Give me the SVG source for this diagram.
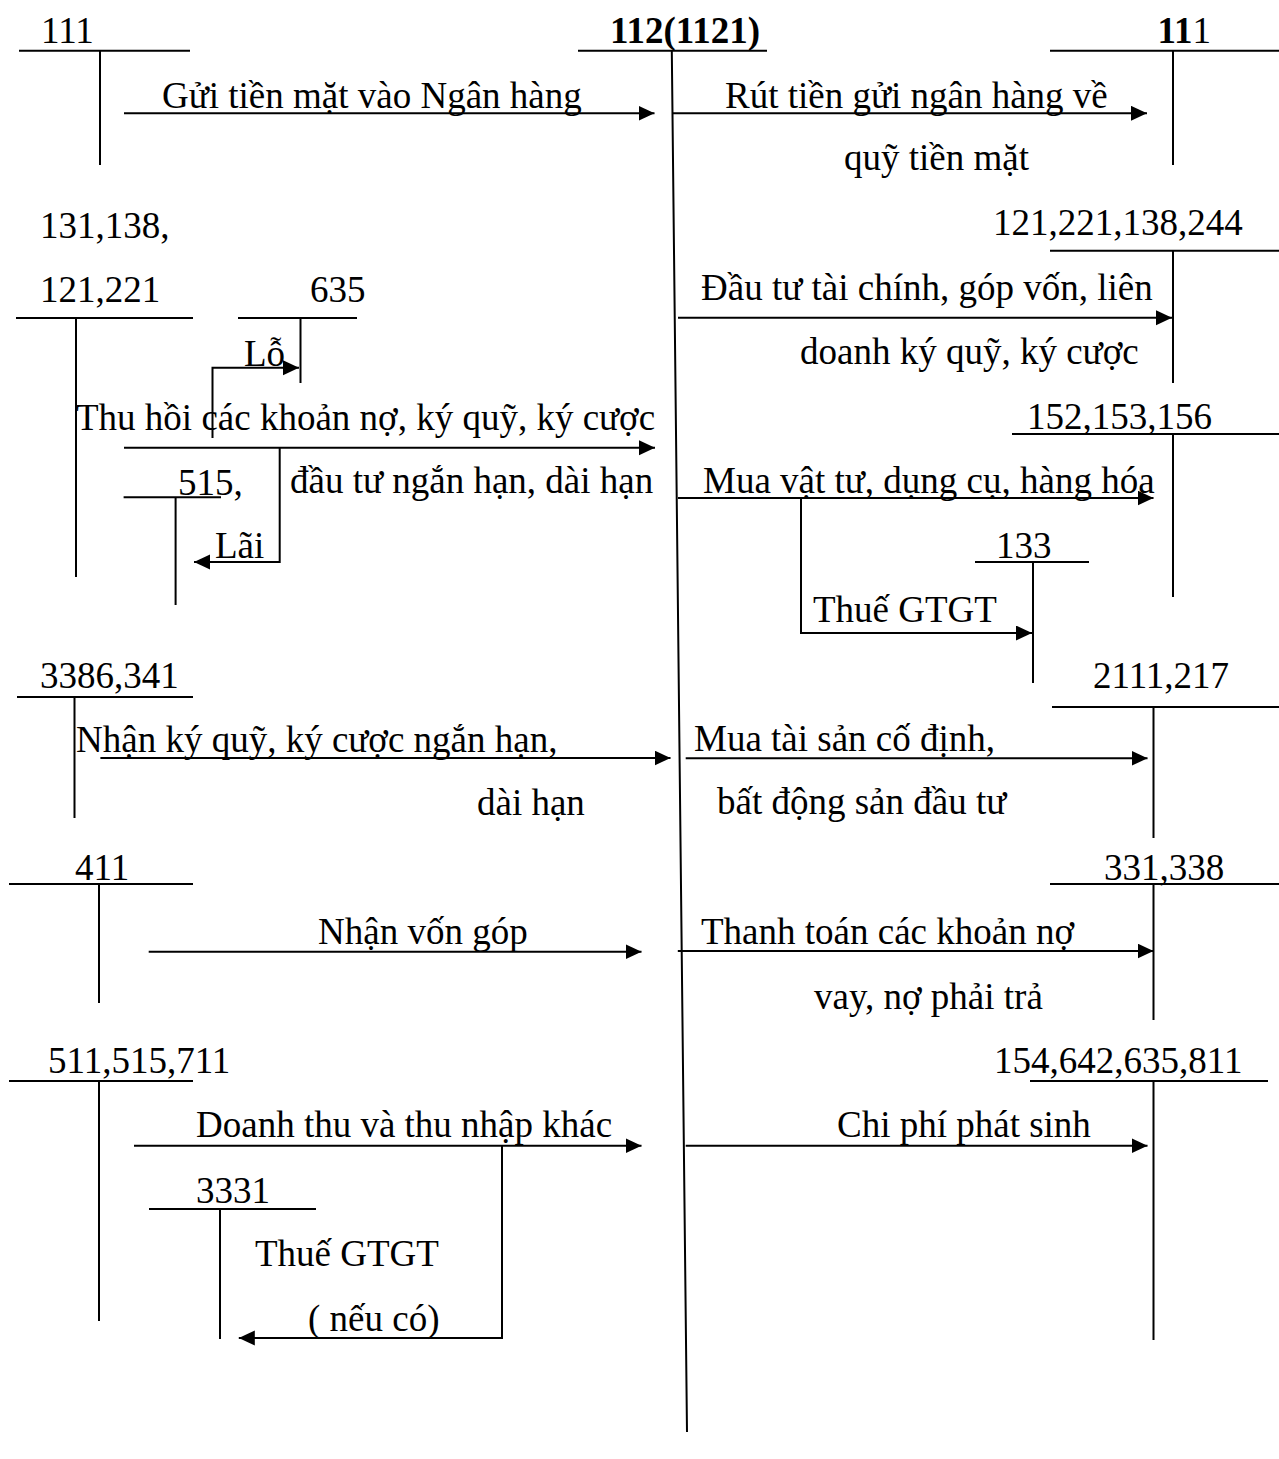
<svg xmlns="http://www.w3.org/2000/svg" width="1279" height="1459" viewBox="0 0 1279 1459">
  <style>
    text { font-family: "Liberation Serif", "Times New Roman", serif; font-size: 37px; fill: #000; }
    .b { font-weight: bold; }
    .ln { stroke: #000; stroke-width: 2; fill: none; }
    .ar { stroke: #000; stroke-width: 2; fill: none; marker-end: url(#tip); }
  </style>
  <defs>
    <marker id="tip" markerUnits="userSpaceOnUse" markerWidth="17" markerHeight="16" refX="16" refY="7.5" orient="auto">
      <path d="M0,0 L16,7.5 L0,15 z" fill="#000"/>
    </marker>
  </defs>
  <rect width="1279" height="1459" fill="#fff"/>

  <!-- T-accounts -->
  <g id="acct-111-left">
    <text x="41" y="43">111</text>
    <path class="ln" d="M19,50.7 H190 M100,50.7 V165"/>
  </g>
  <g id="acct-1121">
    <text class="b" x="610" y="43">112(1121)</text>
    <path class="ln" d="M578,50.7 H767 M671.8,50.7 L687,1432"/>
  </g>
  <g id="acct-111-right">
    <text x="1157.5" y="43"><tspan class="b">11</tspan>1</text>
    <path class="ln" d="M1050,50.7 H1279 M1173,50.7 V165"/>
  </g>
  <g id="acct-131">
    <text x="40" y="238">131,138,</text>
    <text x="40" y="302">121,221</text>
    <path class="ln" d="M16,318 H193 M76,318 V577"/>
  </g>
  <g id="acct-635">
    <text x="310" y="302">635</text>
    <path class="ln" d="M238,318 H357 M300.5,318 V383"/>
  </g>
  <g id="acct-515">
    <text x="178" y="495">515,</text>
    <path class="ln" d="M123.6,497.3 H221 M175.6,497.3 V605"/>
  </g>
  <g id="acct-121-right">
    <text x="993" y="235">121,221,138,244</text>
    <path class="ln" d="M1050,250.7 H1279 M1173,250.7 V383"/>
  </g>
  <g id="acct-152">
    <text x="1027" y="429">152,153,156</text>
    <path class="ln" d="M1012,434 H1279 M1173,434 V597"/>
  </g>
  <g id="acct-133">
    <text x="996" y="558">133</text>
    <path class="ln" d="M975,562 H1089 M1033,562 V683"/>
  </g>
  <g id="acct-3386">
    <text x="40" y="688">3386,341</text>
    <path class="ln" d="M17,697 H193 M74.5,697 V818"/>
  </g>
  <g id="acct-2111">
    <text x="1093" y="688">2111,217</text>
    <path class="ln" d="M1052,707 H1279 M1153.5,707 V838"/>
  </g>
  <g id="acct-411">
    <text x="75" y="880">411</text>
    <path class="ln" d="M9,884 H193 M99,884 V1003"/>
  </g>
  <g id="acct-331">
    <text x="1104" y="880">331,338</text>
    <path class="ln" d="M1050,884 H1279 M1153.5,884 V1020"/>
  </g>
  <g id="acct-511">
    <text x="48" y="1073">511,515,711</text>
    <path class="ln" d="M9,1081 H193 M99,1081 V1321"/>
  </g>
  <g id="acct-3331">
    <text x="196" y="1203">3331</text>
    <path class="ln" d="M149,1209 H316 M220,1209 V1339"/>
  </g>
  <g id="acct-154">
    <text x="994" y="1073">154,642,635,811</text>
    <path class="ln" d="M1030,1081 H1268 M1153.5,1081 V1340"/>
  </g>

  <!-- Entries (arrows with their labels) -->
  <g id="connectors">
    <path class="ar" d="M124,113.3 H654.5"/>
    <text x="162" y="108">Gửi tiền mặt vào Ngân hàng</text>

    <path class="ar" d="M672,113.3 H1147"/>
    <text x="725" y="108">Rút tiền gửi ngân hàng về</text>
    <text x="844" y="170">quỹ tiền mặt</text>

    <path class="ar" d="M678,317.7 H1172"/>
    <text x="701" y="300">Đầu tư tài chính, góp vốn, liên</text>
    <text x="800" y="364">doanh ký quỹ, ký cược</text>

    <path class="ar" d="M212.5,438 V367.7 H299"/>
    <text x="244" y="366">Lỗ</text>

    <path class="ar" d="M124,447.7 H655"/>
    <text x="76" y="430">Thu hồi các khoản nợ, ký quỹ, ký cược</text>
    <text x="290" y="493">đầu tư ngắn hạn, dài hạn</text>

    <path class="ar" d="M279.7,447.7 V562 H194"/>
    <text x="215" y="558">Lãi</text>

    <path class="ar" d="M678,498 H1153.5"/>
    <text x="703" y="493">Mua vật tư, dụng cụ, hàng hóa</text>

    <path class="ar" d="M801,498 V633 H1032"/>
    <text x="813" y="622">Thuế GTGT</text>

    <path class="ar" d="M100.4,758 H670.5"/>
    <text x="76" y="752">Nhận ký quỹ, ký cược ngắn hạn,</text>
    <text x="477" y="815">dài hạn</text>

    <path class="ar" d="M685.7,758.3 H1147.5"/>
    <text x="694" y="751">Mua tài sản cố định,</text>
    <text x="717" y="814">bất động sản đầu tư</text>

    <path class="ar" d="M148.7,951.7 H641.5"/>
    <text x="318" y="944">Nhận vốn góp</text>

    <path class="ar" d="M677.8,951 H1153.5"/>
    <text x="701" y="944">Thanh toán các khoản nợ</text>
    <text x="814" y="1009">vay, nợ phải trả</text>

    <path class="ar" d="M134,1145.7 H641.5"/>
    <text x="196" y="1137">Doanh thu và thu nhập khác</text>

    <path class="ar" d="M502,1145.7 V1338 H238.8"/>
    <text x="255" y="1266">Thuế GTGT</text>
    <text x="308" y="1331">( nếu có)</text>

    <path class="ar" d="M685.7,1145.7 H1147.5"/>
    <text x="837" y="1137">Chi phí phát sinh</text>
  </g>
</svg>
